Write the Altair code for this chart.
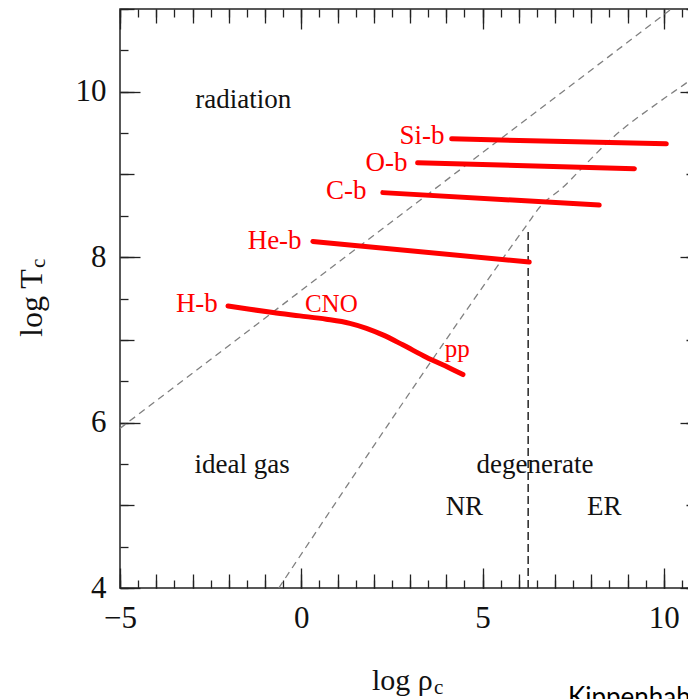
import altair as alt
import pandas as pd

# ---------------- data ----------------
# boundary lines
rad_x = [-5.0, 10.21]
rad_y = [5.93, 11.0]
deg_x = [-0.62, 6.24, 6.57, 7.26, 7.75, 8.58, 9.92, 10.76, 11.0]
deg_y = [4.0, 8.40, 8.60, 8.86, 9.08, 9.44, 9.89, 10.15, 10.23]
er_x = [6.26]
er_y0 = [4.0]
er_y1 = [8.35]

# hydrogen burning track
hb_x = [-2.02, -1.42, -0.78, -0.04, 0.69, 1.34, 1.80, 2.25, 2.80, 3.45, 4.09, 4.46]
hb_y = [7.41, 7.37, 7.33, 7.29, 7.25, 7.20, 7.14, 7.06, 6.94, 6.79, 6.66, 6.58]

# later burning stages
burn_names = ["He-b", "C-b", "O-b", "Si-b"]
burn_x0 = [0.32, 2.25, 3.21, 4.15]
burn_y0 = [8.19, 8.78, 9.14, 9.43]
burn_x1 = [6.29, 8.22, 9.19, 10.07]
burn_y1 = [7.94, 8.63, 9.07, 9.37]

# region labels
region_text = ["radiation", "ideal gas", "degenerate", "NR", "ER"]
region_x = [-1.60, -1.63, 6.45, 4.50, 8.36]
region_y = [9.80, 5.39, 5.39, 4.88, 4.88]

# red labels
red_text = ["H-b", "He-b", "C-b", "O-b", "Si-b"]
red_x = [-2.30, 0.01, 1.80, 2.93, 3.95]
red_y = [7.34, 8.10, 8.70, 9.04, 9.37]
proc_text = ["CNO", "pp"]
proc_x = [0.83, 4.30]
proc_y = [7.34, 6.79]

# ticks
x_major = [-5, 0, 5, 10]
x_mid = [-5, -4, -3, -2, -1, 0, 1, 2, 3, 4, 5, 6, 7, 8, 9, 10, 11]
x_minor = [-5, -4.5, -4, -3.5, -3, -2.5, -2, -1.5, -1, -0.5, 0, 0.5, 1, 1.5, 2, 2.5,
           3, 3.5, 4, 4.5, 5, 5.5, 6, 6.5, 7, 7.5, 8, 8.5, 9, 9.5, 10, 10.5, 11]
y_major = [4, 6, 8, 10]
y_mid = [4, 5, 6, 7, 8, 9, 10, 11]
y_minor = [4, 4.5, 5, 5.5, 6, 6.5, 7, 7.5, 8, 8.5, 9, 9.5, 10, 10.5, 11]

x_title = "log ρ"
y_title = "log T"
sub = "c"
credit = "Kippenhahn"

# ---------------- chart ----------------
XD = [-5, 11]
YD = [4, 11]
SERIF = "Liberation Serif"
INK = "#222222"


def xs():
    return alt.Scale(domain=XD, nice=False, zero=False)


def ys():
    return alt.Scale(domain=YD, nice=False, zero=False)


def axis_layer(xorient, yorient, xv, yv, size, labels):
    common = dict(domain=False, grid=False, title=None, tickSize=size, offset=-size,
                  tickColor=INK, tickWidth=1.3, labels=labels, labelFont=SERIF,
                  labelFontSize=31, labelColor="#111111", labelFlush=False,
                  labelOverlap=False, labelBound=False)
    ax_x = alt.Axis(orient=xorient, values=xv, labelPadding=15, **common)
    ax_y = alt.Axis(orient=yorient, values=yv, labelPadding=14, **common)
    d = pd.DataFrame({"x": [-5.0], "y": [4.0]})
    return alt.Chart(d).mark_point(opacity=0, size=1).encode(
        x=alt.X("x:Q", scale=xs(), axis=ax_x),
        y=alt.Y("y:Q", scale=ys(), axis=ax_y),
    )


axes = [
    axis_layer("bottom", "left", x_major, y_major, 20, True),
    axis_layer("bottom", "left", x_mid, y_mid, 14, False),
    axis_layer("bottom", "left", x_minor, y_minor, 8, False),
    axis_layer("top", "right", x_major, y_major, 20, False),
    axis_layer("top", "right", x_mid, y_mid, 14, False),
    axis_layer("top", "right", x_minor, y_minor, 8, False),
]


def X(f="x"):
    return alt.X(f + ":Q", scale=xs(), axis=None)


def Y(f="y"):
    return alt.Y(f + ":Q", scale=ys(), axis=None)


rad = alt.Chart(pd.DataFrame({"x": rad_x, "y": rad_y})).mark_line(
    color="#808080", strokeWidth=1.3, strokeDash=[7, 5]
).encode(x=X(), y=Y())

deg = alt.Chart(pd.DataFrame({"x": deg_x, "y": deg_y})).mark_line(
    color="#808080", strokeWidth=1.3, strokeDash=[7, 5], interpolate="monotone"
).encode(x=X(), y=Y())

er = alt.Chart(pd.DataFrame({"x": er_x, "y": er_y0, "y2": er_y1})).mark_rule(
    color="#333333", strokeWidth=1.6, strokeDash=[8, 4]
).encode(x=X(), y=Y(), y2="y2:Q")

hb = alt.Chart(pd.DataFrame({"x": hb_x, "y": hb_y, "o": list(range(len(hb_x)))})).mark_line(
    color="#ff0000", strokeWidth=5, strokeCap="round", strokeJoin="round",
    interpolate="monotone"
).encode(x=X(), y=Y(), order="o:Q")

burn = alt.Chart(pd.DataFrame({"n": burn_names, "x": burn_x0, "y": burn_y0,
                               "x2": burn_x1, "y2": burn_y1})).mark_rule(
    color="#ff0000", strokeWidth=5, strokeCap="round"
).encode(x=X(), y=Y(), x2="x2:Q", y2="y2:Q")

regions = alt.Chart(pd.DataFrame({"t": region_text, "x": region_x, "y": region_y})).mark_text(
    font=SERIF, fontSize=27, color="#111111", align="center", baseline="alphabetic"
).encode(x=X(), y=Y(), text="t:N")

reds = alt.Chart(pd.DataFrame({"t": red_text, "x": red_x, "y": red_y})).mark_text(
    font=SERIF, fontSize=27, color="#ff0000", align="right", baseline="alphabetic"
).encode(x=X(), y=Y(), text="t:N")

procs = alt.Chart(pd.DataFrame({"t": proc_text, "x": proc_x, "y": proc_y})).mark_text(
    font=SERIF, fontSize=25, color="#ff0000", align="center", baseline="alphabetic"
).encode(x=X(), y=Y(), text="t:N")


def label(txt, px, py, size, angle=0, font=SERIF, color="#111111"):
    d = pd.DataFrame({"t": [txt]})
    kw = dict(font=font, fontSize=size, color=color, align="left", baseline="alphabetic")
    if angle:
        kw["angle"] = angle
    return alt.Chart(d).mark_text(**kw).encode(
        x=alt.value(px), y=alt.value(py), text="t:N"
    )


titles = [
    label(y_title, -78, 328, 32, angle=270),
    label(sub, -75, 259, 21, angle=270),
    label(x_title, 252, 681, 30),
    label(sub, 314, 685, 21),
    label(credit, 448, 697, 26, font="Lato", color="#000000"),
]

chart = alt.layer(
    *axes, rad, deg, er, hb, burn, regions, reds, procs, *titles
).resolve_axis(x="independent", y="independent").properties(
    width=580, height=579,
    autosize=alt.AutoSizeParams(type="none"),
    padding={"left": 112, "top": 1, "right": -12, "bottom": 111},
).configure_view(stroke="#222222", strokeWidth=1.5)

chart.save("out.html", embed_options={"renderer": "svg", "actions": False})
